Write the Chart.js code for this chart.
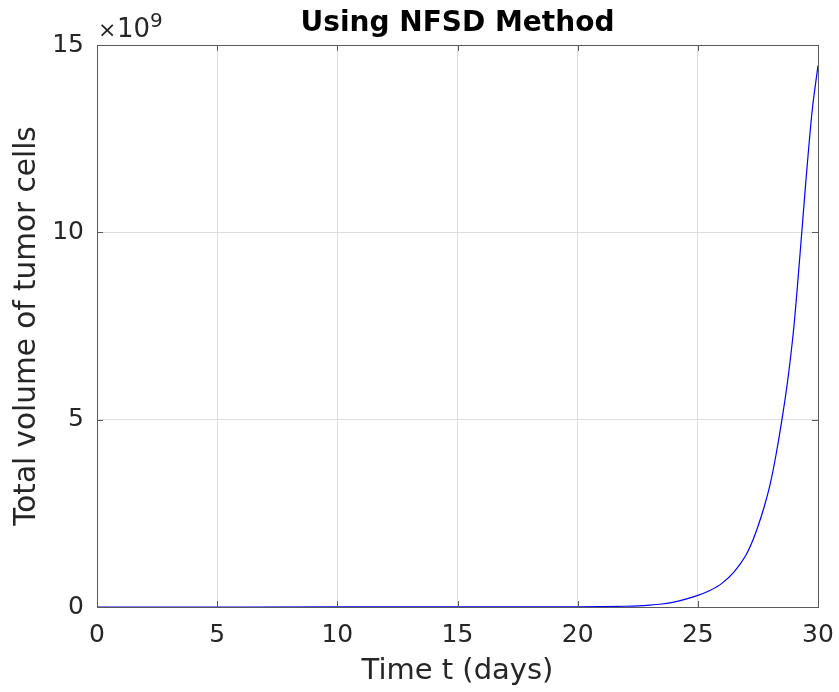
<!DOCTYPE html>
<html>
<head>
<meta charset="utf-8">
<script src="https://cdn.jsdelivr.net/npm/chart.js@4/dist/chart.umd.min.js"></script>
<style>
  html, body { margin: 0; padding: 0; background: #fff; }
  #wrap { width: 839px; height: 692px; }
</style>
</head>
<body>
<div id="wrap"><canvas id="chart" width="839" height="692"></canvas></div>
<script>
// time in days, volume in units of 1e9
const days = [0, 5, 10, 15, 20, 21, 22, 22.5, 23, 23.5, 24, 24.5, 25, 25.5, 26, 26.5, 27, 27.25, 27.5, 27.75, 28, 28.25, 28.5, 28.75, 29, 29.25, 29.5, 29.75, 30];
const volume = [0, 0, 0.001, 0.002, 0.005, 0.01, 0.02, 0.03, 0.05, 0.08, 0.13, 0.21, 0.31, 0.44, 0.63, 0.93, 1.38, 1.72, 2.15, 2.65, 3.25, 4.05, 5.0, 6.1, 7.5, 9.4, 11.4, 13.2, 14.45];
const xTicks = [0, 5, 10, 15, 20, 25, 30];
const yTicks = [0, 5, 10, 15];
const titleText = 'Using NFSD Method';
const xLabel = 'Time t (days)';
const yLabel = 'Total volume of tumor cells';
const FONT = "'DejaVu Sans', sans-serif";

const points = days.map((d, i) => ({x: d, y: volume[i]}));

// box, inward tick marks, title and the x10^9 exponent
const matlabBox = {
    id: 'matlabBox',
    afterDraw(chart) {
        const ctx = chart.ctx;
        const a = chart.chartArea;
        const xs = chart.scales.x, ys = chart.scales.y;
        ctx.save();
        ctx.strokeStyle = '#5a5a5a';
        ctx.lineWidth = 1;
        ctx.strokeRect(Math.round(a.left) + 0.5, Math.round(a.top) + 0.5,
            Math.round(a.right - a.left), Math.round(a.bottom - a.top));
        const tl = 6;
        ctx.beginPath();
        xTicks.forEach(v => {
            const px = Math.round(xs.getPixelForValue(v)) + 0.5;
            ctx.moveTo(px, a.bottom); ctx.lineTo(px, a.bottom - tl);
            ctx.moveTo(px, a.top); ctx.lineTo(px, a.top + tl);
        });
        yTicks.forEach(v => {
            const py = Math.round(ys.getPixelForValue(v)) + 0.5;
            ctx.moveTo(a.left, py); ctx.lineTo(a.left + tl, py);
            ctx.moveTo(a.right, py); ctx.lineTo(a.right - tl, py);
        });
        ctx.stroke();

        ctx.fillStyle = '#000';
        ctx.font = 'bold 28px ' + FONT;
        ctx.textAlign = 'center';
        ctx.textBaseline = 'alphabetic';
        ctx.fillText(titleText, (a.left + a.right) / 2, 31);

        ctx.fillStyle = '#262626';
        ctx.textAlign = 'left';
        ctx.font = '22px ' + FONT;
        ctx.fillText('\u00d7', a.left + 1, 37);
        ctx.font = '26px ' + FONT;
        ctx.fillText('10', a.left + 20, 37);
        ctx.font = '20px ' + FONT;
        ctx.fillText('9', a.left + 53, 27);
        ctx.restore();
    }
};

new Chart(document.getElementById('chart'), {
    type: 'line',
    data: {
        datasets: [{
            data: points,
            borderColor: '#0000ff',
            borderWidth: 1.2,
            pointRadius: 0,
            tension: 0.3,
            cubicInterpolationMode: 'monotone',
            fill: false
        }]
    },
    options: {
        responsive: false,
        animation: false,
        layout: { padding: { top: 45, right: 21, left: 0, bottom: 0 } },
        plugins: {
            legend: { display: false },
            tooltip: { enabled: false }
        },
        scales: {
            x: {
                type: 'linear',
                min: 0,
                max: 30,
                afterBuildTicks: s => { s.ticks = xTicks.map(v => ({value: v})); },
                afterFit: s => { s.height = 85; s.paddingLeft = 0; s.paddingRight = 0; },
                grid: { color: '#dedede', drawTicks: false },
                border: { display: false },
                ticks: {
                    color: '#262626',
                    font: { family: FONT, size: 25 },
                    padding: 13,
                    maxRotation: 0
                },
                title: {
                    display: true,
                    text: xLabel,
                    color: '#262626',
                    font: { family: FONT, size: 29 },
                    padding: { top: 0, bottom: 3 }
                }
            },
            y: {
                min: 0,
                max: 15,
                afterBuildTicks: s => { s.ticks = yTicks.map(v => ({value: v})); },
                afterFit: s => { s.width = 97; s.paddingTop = 0; s.paddingBottom = 0; },
                grid: { color: '#dedede', drawTicks: false },
                border: { display: false },
                ticks: {
                    color: '#262626',
                    font: { family: FONT, size: 25 },
                    padding: 13
                },
                title: {
                    display: true,
                    text: yLabel,
                    color: '#262626',
                    font: { family: FONT, size: 29.5 },
                    padding: { top: 10, bottom: 0 }
                }
            }
        }
    },
    plugins: [matlabBox]
});
</script>
</body>
</html>
